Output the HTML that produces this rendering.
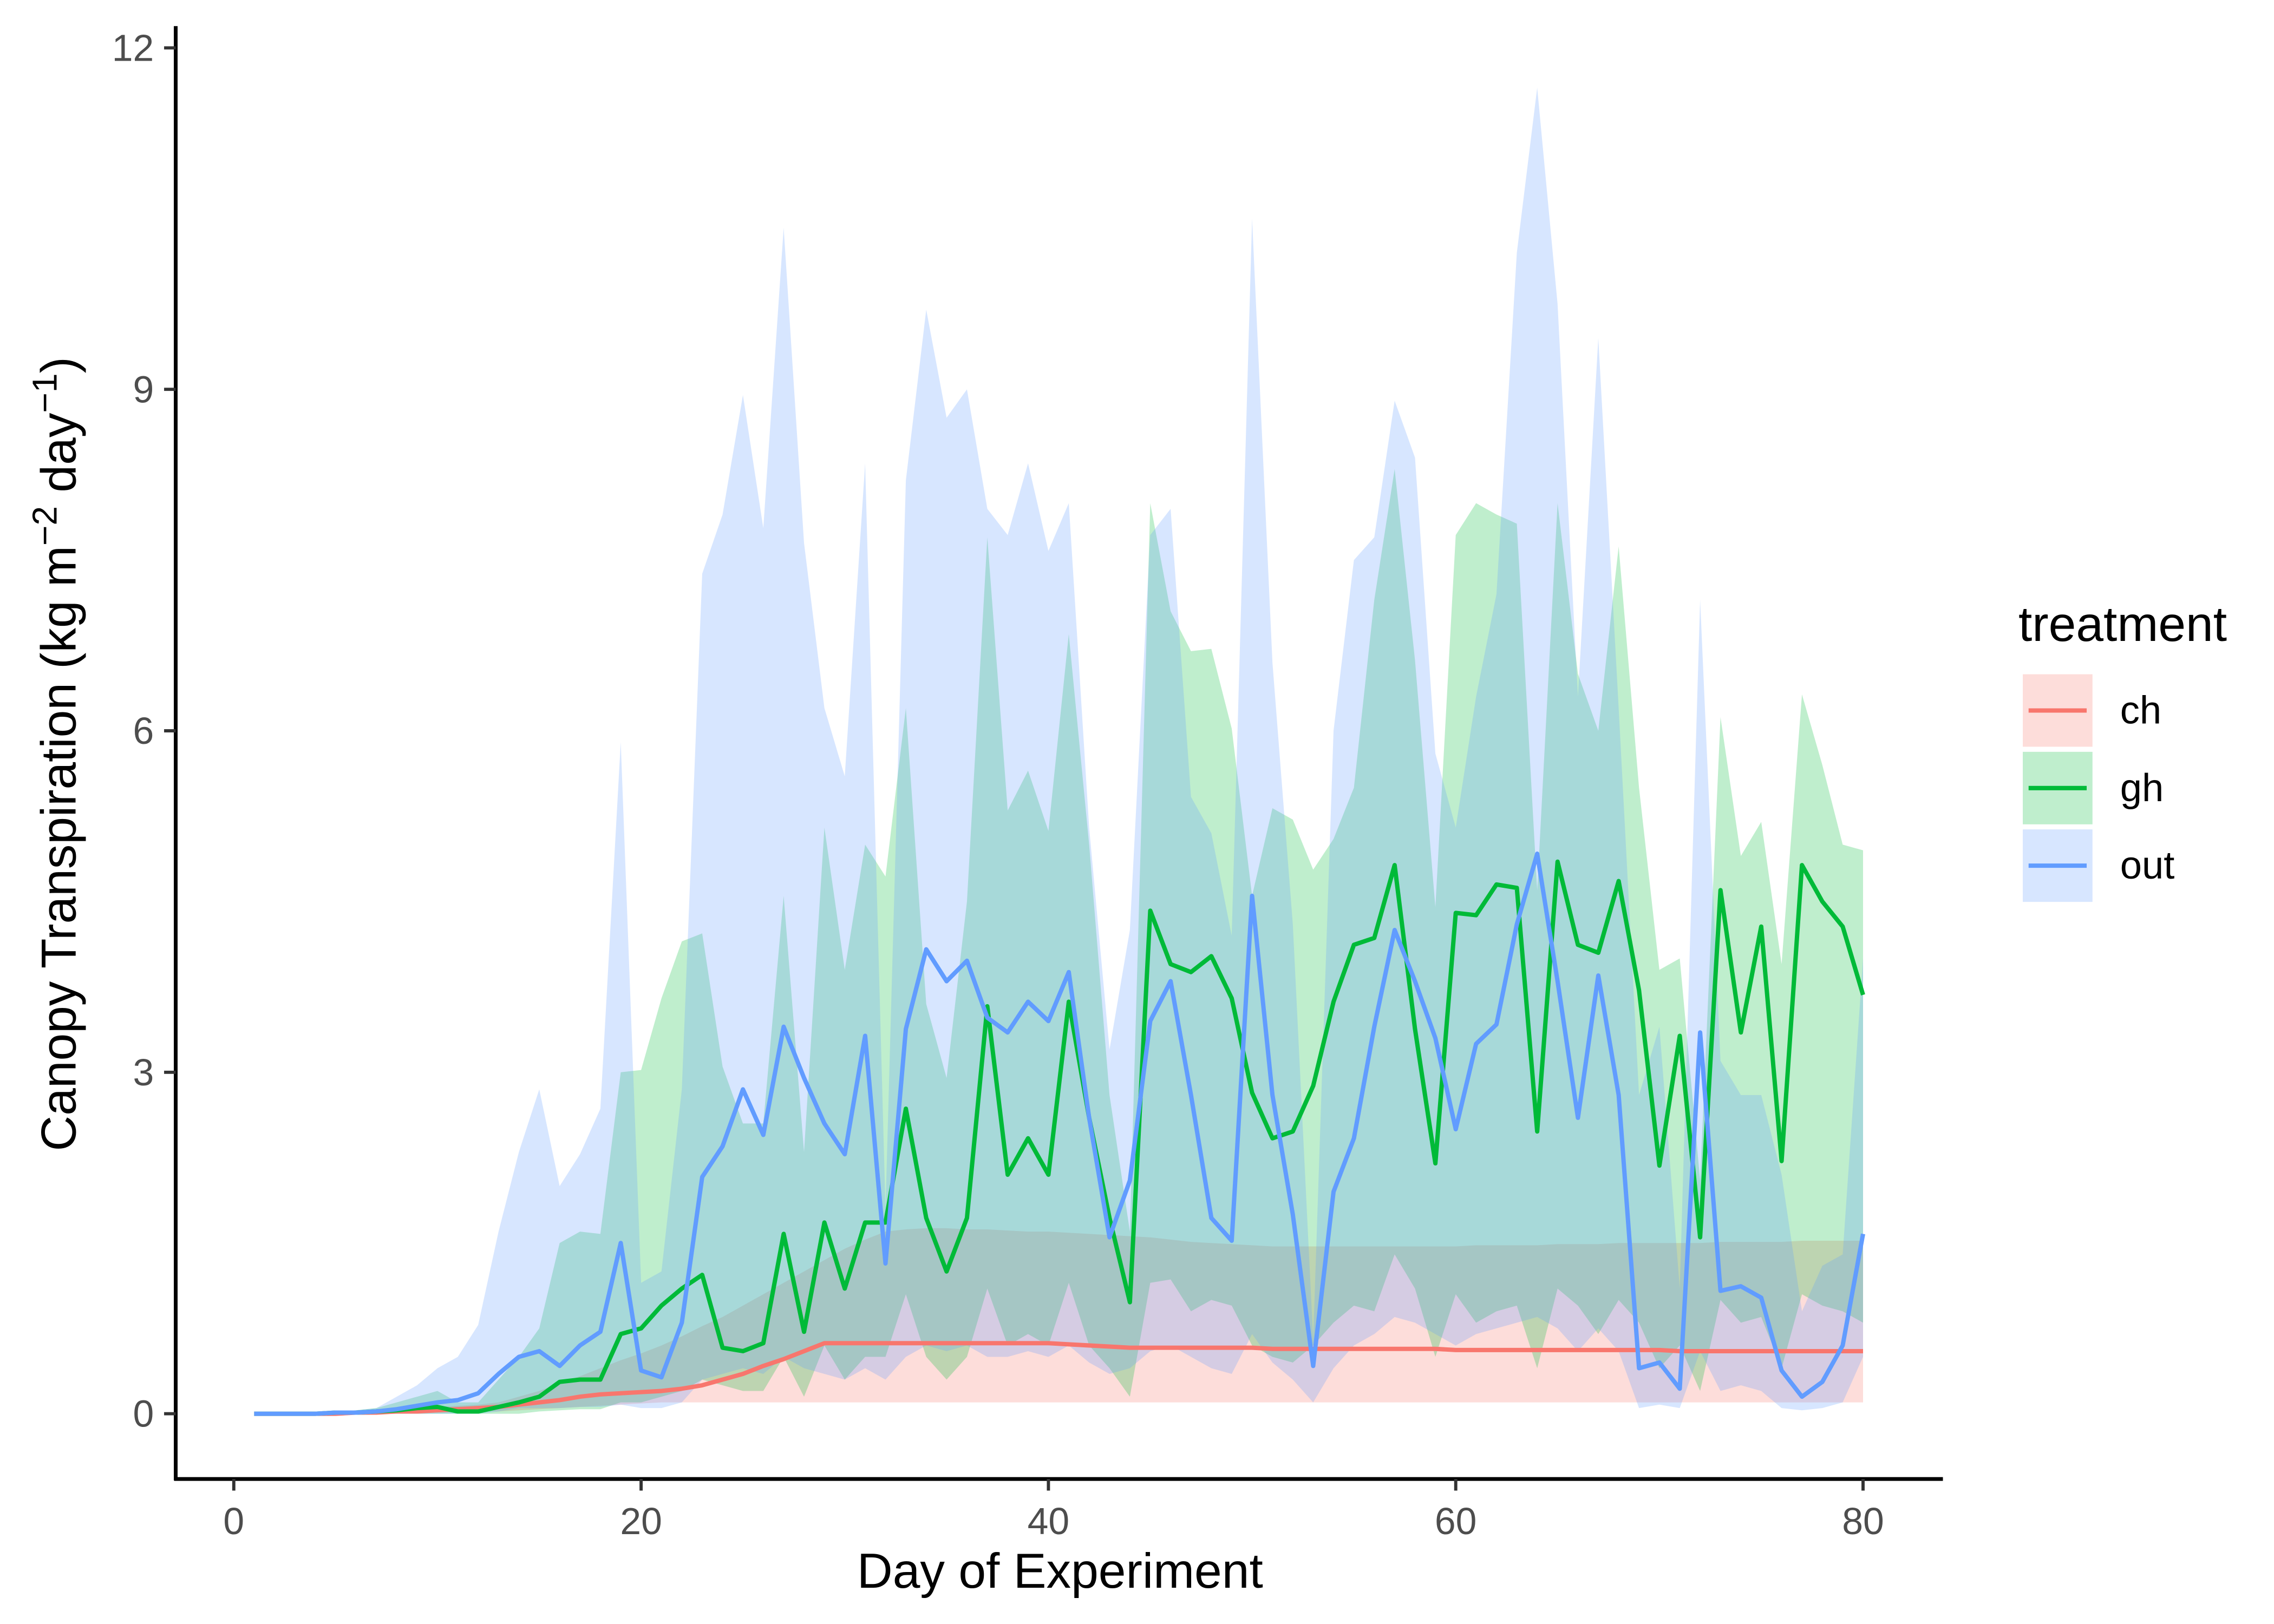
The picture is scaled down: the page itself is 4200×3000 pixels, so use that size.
<!DOCTYPE html>
<html><head><meta charset="utf-8"><style>
html,body{margin:0;padding:0;background:#fff;}
svg{display:block;font-family:"Liberation Sans",sans-serif;}
</style></head><body>
<svg id="chart" width="4200" height="3000" viewBox="0 0 1566 1120" preserveAspectRatio="none" xmlns="http://www.w3.org/2000/svg">
<g id="bands"></g>
<g id="lines"></g>
<g id="axes"></g>
<g id="legend"></g>
</svg>
<script>
const days = Array.from({length:80},(_,i)=>i+1);
const xTicks = [0,20,40,60,80];
const yTicks = [0,3,6,9,12];
const outMean = [0,0,0,0,0.01,0.01,0.02,0.04,0.07,0.1,0.12,0.18,0.35,0.5,0.55,0.42,0.6,0.72,1.5,0.38,0.32,0.8,2.08,2.35,2.85,2.45,3.4,2.95,2.55,2.28,3.32,1.32,3.38,4.08,3.8,3.98,3.48,3.35,3.62,3.45,3.88,2.6,1.55,2.05,3.45,3.8,2.8,1.72,1.52,4.55,2.8,1.75,0.42,1.95,2.42,3.4,4.25,3.8,3.3,2.5,3.25,3.42,4.3,4.92,3.8,2.6,3.85,2.8,0.4,0.45,0.22,3.35,1.08,1.12,1.02,0.38,0.15,0.28,0.6,1.58];
const outHi = [0,0,0,0.01,0.02,0.03,0.05,0.15,0.25,0.4,0.5,0.78,1.6,2.3,2.85,2.0,2.28,2.68,5.9,1.15,1.25,2.85,7.38,7.9,8.95,7.78,10.42,7.65,6.2,5.6,8.35,1.8,8.2,9.7,8.75,9.0,7.95,7.72,8.35,7.58,8.0,5.15,3.2,4.25,7.72,7.95,5.42,5.1,4.2,10.5,6.6,4.3,0.65,6.0,7.5,7.7,8.9,8.4,5.8,5.15,6.3,7.2,10.2,11.65,9.75,6.3,9.45,6.2,2.8,3.4,1.1,7.15,3.1,2.8,2.8,2.1,0.9,1.3,1.4,4.0];
const outLo = [0,0,0,0,0,0,0,0,0,0,0,0,0.02,0.05,0.05,0.05,0.06,0.06,0.08,0.05,0.05,0.1,0.3,0.35,0.4,0.35,0.5,0.4,0.35,0.3,0.4,0.3,0.5,0.6,0.55,0.6,0.5,0.5,0.55,0.5,0.6,0.45,0.35,0.4,0.55,0.6,0.5,0.4,0.35,0.7,0.45,0.3,0.1,0.4,0.6,0.7,0.85,0.8,0.7,0.6,0.7,0.75,0.8,0.85,0.75,0.55,0.75,0.55,0.05,0.08,0.05,0.55,0.2,0.25,0.2,0.05,0.03,0.05,0.1,0.5];
const ghMean = [0,0,0,0,0.01,0.01,0.02,0.03,0.05,0.06,0.02,0.02,0.06,0.1,0.15,0.28,0.3,0.3,0.7,0.75,0.95,1.1,1.22,0.58,0.55,0.62,1.58,0.72,1.68,1.1,1.68,1.68,2.68,1.72,1.25,1.72,3.58,2.1,2.42,2.1,3.62,2.6,1.72,0.98,4.42,3.95,3.88,4.02,3.65,2.82,2.42,2.48,2.88,3.62,4.12,4.18,4.82,3.38,2.2,4.4,4.38,4.65,4.62,2.48,4.85,4.12,4.05,4.68,3.72,2.18,3.32,1.55,4.6,3.35,4.28,2.22,4.82,4.5,4.28,3.68];
const ghHi = [0,0,0,0.01,0.02,0.03,0.05,0.1,0.15,0.2,0.1,0.1,0.3,0.5,0.75,1.5,1.6,1.58,3.0,3.02,3.65,4.15,4.22,3.05,2.55,2.55,4.55,2.3,5.15,3.9,5.0,4.72,6.2,3.6,2.95,4.5,7.7,5.3,5.65,5.12,6.85,5.0,2.8,1.6,8.0,7.05,6.7,6.72,6.02,4.55,5.32,5.22,4.78,5.05,5.5,7.15,8.3,6.62,4.45,7.72,8.0,7.9,7.82,4.6,8.0,6.5,6.0,7.62,5.5,3.9,4.0,2.05,6.12,4.9,5.2,3.95,6.32,5.7,5.0,4.95];
const ghLo = [0,0,0,0,0,0,0,0,0,0,0,0,0,0,0.02,0.03,0.04,0.04,0.1,0.1,0.15,0.2,0.3,0.25,0.2,0.2,0.5,0.15,0.6,0.3,0.5,0.5,1.05,0.5,0.3,0.5,1.1,0.6,0.7,0.6,1.15,0.6,0.4,0.15,1.15,1.18,0.9,1.0,0.95,0.6,0.5,0.45,0.6,0.8,0.95,0.9,1.4,1.1,0.5,1.05,0.8,0.9,0.95,0.4,1.1,0.95,0.7,1.0,0.8,0.4,0.6,0.2,1.0,0.8,0.85,0.4,1.05,0.95,0.9,0.8];
const chMean = [0,0,0,0,0,0.01,0.01,0.02,0.02,0.03,0.04,0.05,0.06,0.08,0.1,0.12,0.15,0.17,0.18,0.19,0.2,0.22,0.25,0.3,0.35,0.42,0.48,0.55,0.62,0.62,0.62,0.62,0.62,0.62,0.62,0.62,0.62,0.62,0.62,0.62,0.61,0.6,0.59,0.58,0.58,0.58,0.58,0.58,0.58,0.58,0.57,0.57,0.57,0.57,0.57,0.57,0.57,0.57,0.57,0.56,0.56,0.56,0.56,0.56,0.56,0.56,0.56,0.56,0.56,0.56,0.55,0.55,0.55,0.55,0.55,0.55,0.55,0.55,0.55,0.55];
const chHi = [0,0,0,0,0.01,0.02,0.03,0.04,0.05,0.06,0.07,0.08,0.1,0.15,0.2,0.27,0.33,0.4,0.47,0.53,0.6,0.68,0.77,0.85,0.95,1.05,1.15,1.25,1.35,1.45,1.53,1.6,1.62,1.63,1.63,1.62,1.62,1.61,1.6,1.6,1.59,1.58,1.57,1.56,1.55,1.53,1.51,1.5,1.49,1.48,1.47,1.47,1.47,1.47,1.47,1.47,1.47,1.47,1.47,1.47,1.48,1.48,1.48,1.48,1.49,1.49,1.49,1.5,1.5,1.5,1.5,1.5,1.51,1.51,1.51,1.51,1.52,1.52,1.52,1.52];
const chLo = [0,0,0,0,0,0,0,0,0.01,0.01,0.01,0.02,0.02,0.03,0.04,0.05,0.06,0.07,0.08,0.09,0.1,0.1,0.1,0.1,0.1,0.1,0.1,0.1,0.1,0.1,0.1,0.1,0.1,0.1,0.1,0.1,0.1,0.1,0.1,0.1,0.1,0.1,0.1,0.1,0.1,0.1,0.1,0.1,0.1,0.1,0.1,0.1,0.1,0.1,0.1,0.1,0.1,0.1,0.1,0.1,0.1,0.1,0.1,0.1,0.1,0.1,0.1,0.1,0.1,0.1,0.1,0.1,0.1,0.1,0.1,0.1,0.1,0.1,0.1,0.1];
const treatments = ["ch","gh","out"];
const colors = {ch:"#F8766D",gh:"#00BA38",out:"#619CFF"};

const NS="http://www.w3.org/2000/svg";
const xs = d => 161 + (d-0)*(1283-161)/80;
const ys = v => 975 - v*(975-33)/12;
function mk(tag, parent, attrs){const e=document.createElementNS(NS,tag);for(const k in attrs)e.setAttribute(k,attrs[k]);parent.appendChild(e);return e;}
const bands=document.getElementById('bands'), lines=document.getElementById('lines'), axes=document.getElementById('axes'), legend=document.getElementById('legend');
const series = {ch:[chMean,chLo,chHi],gh:[ghMean,ghLo,ghHi],out:[outMean,outLo,outHi]};
treatments.forEach(t=>{
  const [m,lo,hi]=series[t];
  let d = days.map((dd,i)=>(i?'L':'M')+xs(dd)+','+ys(hi[i])).join('');
  for(let i=days.length-1;i>=0;i--) d+='L'+xs(days[i])+','+ys(lo[i]);
  const p=mk('path',bands,{d:d+'Z',fill:colors[t],'fill-opacity':0.25,stroke:'none'});
  
  
});
treatments.forEach(t=>{
  const m=series[t][0];
  const l=mk('polyline',lines,{points:days.map((dd,i)=>xs(dd)+','+ys(m[i])).join(' '),fill:'none',stroke:colors[t],'stroke-width':3,'stroke-linejoin':'round'});
  
  
});
const yl=mk('line',axes,{x1:121,y1:18,x2:121,y2:1021,stroke:'#000','stroke-width':2.6});


const xl=mk('line',axes,{x1:120,y1:1020,x2:1338,y2:1020,stroke:'#000','stroke-width':2.6});


yTicks.forEach(v=>{
  mk('line',axes,{x1:113,x2:121,y1:ys(v),y2:ys(v),stroke:'#333','stroke-width':2.2});
  const tx=mk('text',axes,{x:106,y:ys(v)+9,'text-anchor':'end','font-size':26,fill:'#4d4d4d'});
  tx.textContent=v;
  
  
});
xTicks.forEach(v=>{
  mk('line',axes,{x1:xs(v),x2:xs(v),y1:1020,y2:1028,stroke:'#333','stroke-width':2.2});
  const tx=mk('text',axes,{x:xs(v),y:1058,'text-anchor':'middle','font-size':26,fill:'#4d4d4d'});
  tx.textContent=v;
  
  
});
const xt=mk('text',axes,{x:730,y:1095,'text-anchor':'middle','font-size':34,fill:'#000'});
xt.textContent='Day of Experiment';


const yt=mk('text',axes,{transform:'translate(52,520) rotate(-90)','text-anchor':'middle','font-size':34,fill:'#000'});
yt.innerHTML='Canopy Transpiration (kg m<tspan dy="-13" font-size="24">−2</tspan><tspan dy="13"> day</tspan><tspan dy="-13" font-size="24">−1</tspan><tspan dy="13">)</tspan>';


const lt=mk('text',legend,{x:1390,y:442,'font-size':34,fill:'#000'});
lt.textContent='treatment';


treatments.forEach((t,i)=>{
  const y0=465+i*53.5;
  const g=mk('g',legend,{});
  
  
  mk('rect',g,{x:1393,y:y0,width:48,height:50,fill:colors[t],'fill-opacity':0.25});
  mk('line',g,{x1:1397,x2:1437,y1:y0+25,y2:y0+25,stroke:colors[t],'stroke-width':3});
  const tx=mk('text',g,{x:1460,y:y0+34,'font-size':27,fill:'#000'});
  tx.textContent=t;
});
</script>
</body></html>
